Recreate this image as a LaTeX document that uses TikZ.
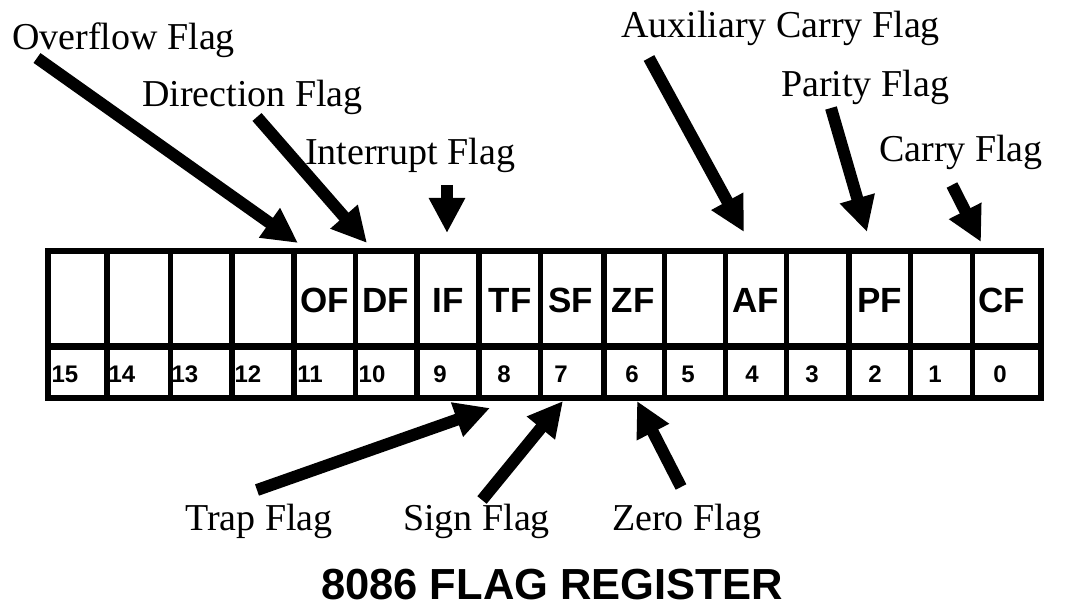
\documentclass[tikz,border=0pt]{standalone}
\usepackage{fontspec}
\setmainfont{Liberation Serif}
\newfontfamily\boldsans{Liberation Sans}
\usetikzlibrary{arrows.meta}
\begin{document}
\begin{tikzpicture}[x=1pt,y=-1pt,
  lbl/.style={anchor=base west,inner sep=0pt,font=\fontsize{38}{44}\selectfont},
  flagtxt/.style={inner sep=0pt,font=\boldsans\bfseries\fontsize{35}{40}\selectfont},
  bitnum/.style={inner sep=0pt,font=\boldsans\bfseries\fontsize{24}{28}\selectfont},
  titletxt/.style={inner sep=0pt,font=\boldsans\bfseries\fontsize{43.5}{50}\selectfont},
  bigarrow/.style={line width=12pt,-{Triangle[length=35pt,width=34pt]}},
  frameline/.style={line width=6pt},
  divline/.style={line width=5.5pt}]
\useasboundingbox (0,0) rectangle (1068,609);
% register frame
\draw[frameline] (48,251) rectangle (1041,397.5);
\draw[line width=7pt] (48,346.5) -- (1041,346.5);
\foreach \x in {107,170.5,232,294,355.5,417,479,540.5,604,664.5,725.5,786.5,849,910.5,972.5}
  \draw[divline] (\x,251) -- (\x,397.5);
% flag names in cells
\node[flagtxt] (cOF) at (325,300) {OF};
\node[flagtxt] (cDF) at (386,300) {DF};
\node[flagtxt] (cIF) at (448,300) {IF};
\node[flagtxt] (cTF) at (510,300) {TF};
\node[flagtxt] (cSF) at (571,300) {SF};
\node[flagtxt] (cZF) at (633,300) {ZF};
\node[flagtxt] (cAF) at (756,300) {AF};
\node[flagtxt] (cPF) at (880,300) {PF};
\node[flagtxt] (cCF) at (1002,300) {CF};
% bit numbers
\foreach \n/\x in {15/65,14/122,13/185,12/248,11/310,10/372,9/440,8/504,7/561,6/632,5/688,4/752,3/812,2/875,1/935,0/1000}
  \node[bitnum] (b\n) at (\x,374) {\n};
% labels
\node[lbl] (lOF) at (12,50) {Overflow Flag};
\node[lbl] (lDF) at (142,107) {Direction Flag};
\node[lbl] (lIF) at (305,165) {Interrupt Flag};
\node[lbl] (lAF) at (621,38) {Auxiliary Carry Flag};
\node[lbl] (lPF) at (781,97) {Parity Flag};
\node[lbl] (lCF) at (879,162) {Carry Flag};
\node[lbl] (lTF) at (185,530) {Trap Flag};
\node[lbl] (lSF) at (403,530) {Sign Flag};
\node[lbl] (lZF) at (612,530) {Zero Flag};
% arrow ends
\coordinate (tOF) at (37,58);   \coordinate (hOF) at (298,243);
\coordinate (tDF) at (257,117); \coordinate (hDF) at (367,243);
\coordinate (tIF) at (447,185); \coordinate (hIF) at (447,233);
\coordinate (tAF) at (649,58);  \coordinate (hAF) at (744,232);
\coordinate (tPF) at (831,108); \coordinate (hPF) at (867,232);
\coordinate (tCF) at (952,185); \coordinate (hCF) at (981,242);
\coordinate (tTF) at (257,490); \coordinate (hTF) at (490,408);
\coordinate (tSF) at (482,500); \coordinate (hSF) at (563,401);
\coordinate (tZF) at (681,487); \coordinate (hZF) at (637,401);
\foreach \f in {OF,DF,IF,AF,PF,CF,TF,SF,ZF}
  \draw[bigarrow] (t\f) -- (h\f);
% title
\node[titletxt] (title) at (552,585) {8086 FLAG REGISTER};
\end{tikzpicture}
\end{document}
